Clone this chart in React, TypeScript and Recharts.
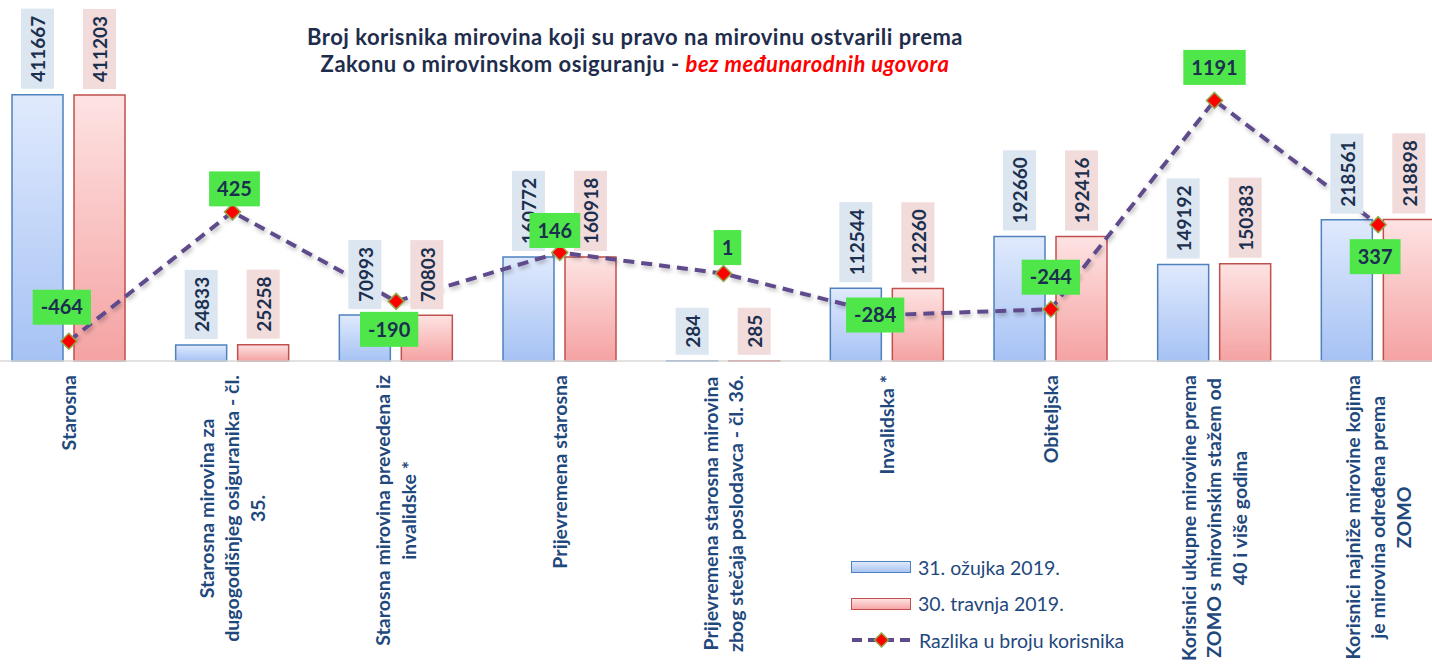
import React from 'react';
import { ComposedChart, Bar, Line, XAxis, YAxis, LabelList, Legend } from 'recharts';

const categories = [
  'Starosna',
  'Starosna mirovina za\ndugogodišnjeg osiguranika - čl.\n35.',
  'Starosna mirovina prevedena iz\ninvalidske *',
  'Prijevremena starosna',
  'Prijevremena starosna mirovina\nzbog stečaja poslodavca - čl. 36.',
  'Invalidska *',
  'Obiteljska',
  'Korisnici ukupne mirovine prema\nZOMO s mirovinskim stažem od\n40 i više godina',
  'Korisnici najniže mirovine kojima\nje mirovina određena prema\nZOMO',
];
const march2019 = [411667, 24833, 70993, 160772, 284, 112544, 192660, 149192, 218561];
const april2019 = [411203, 25258, 70803, 160918, 285, 112260, 192416, 150383, 218898];
const difference = [-464, 425, -190, 146, 1, -284, -244, 1191, 337];
const seriesNames = ['31. ožujka 2019.', '30. travnja 2019.', 'Razlika u broju korisnika'];
const titleLine1 = 'Broj korisnika mirovina koji su pravo na mirovinu ostvarili prema';
const titleLine2 = 'Zakonu o mirovinskom osiguranju - ';
const titleHighlight = 'bez međunarodnih ugovora';

// label placement (dx, dy) for difference labels relative to their point
const DIFF_LABEL_OFFSET: [number, number][] = [
  [-7, -34], [2, -23], [-7, 28], [-5, -22], [4, -26], [-12, 0], [0, -32], [0, -33], [-3, 32],
];

const data = categories.map((c, i) => ({
  name: c,
  march: march2019[i],
  april: april2019[i],
  diff: difference[i],
}));

const FONT = "Lato, 'Open Sans', sans-serif";
const AX_FONT = 19.6;
const LINE_H = 25.5;

let ctx: CanvasRenderingContext2D | null = null;
function textWidth(t: string, font: string): number {
  if (!ctx) {
    const c = document.createElement('canvas');
    ctx = c.getContext('2d');
  }
  if (!ctx) return t.length * 9;
  ctx.font = font;
  return ctx.measureText(t).width;
}

const CategoryTick = (props: any) => {
  const { x, payload } = props;
  const lines = String(payload.value).split('\n');
  const font = `bold ${AX_FONT}px Lato`;
  const maxW = Math.max(...lines.map((l) => textWidth(l, font)));
  const top = 375;
  const cy = top + maxW / 2;
  const n = lines.length;
  return (
    <g transform={`translate(${x},${cy}) rotate(-90)`}>
      <text textAnchor="middle" fontFamily={FONT} fontWeight={700} fontSize={AX_FONT} fill="#1f497d">
        {lines.map((l, i) => (
          <tspan key={i} x={0} y={(i - (n - 1) / 2) * LINE_H + AX_FONT * 0.35}>
            {l}
          </tspan>
        ))}
      </text>
    </g>
  );
};

const makeValueLabel = (bg: string) => (props: any) => {
  const { x, y, width, value } = props;
  const fs = 19;
  const tw = textWidth(String(value), `bold ${fs}px Lato`);
  const h = tw + 14;
  const w = 33;
  const cx = Number(x) + Number(width) / 2;
  const bottom = Number(y) - 6;
  return (
    <g>
      <rect x={cx - w / 2} y={bottom - h} width={w} height={h} fill={bg} />
      <text
        transform={`translate(${cx + 1},${bottom - h / 2}) rotate(-90)`}
        textAnchor="middle"
        dy="0.36em"
        fontFamily={FONT}
        fontWeight={700}
        fontSize={fs}
        fill="#1b2f4f"
      >
        {value}
      </text>
    </g>
  );
};

const DiffLabel = (props: any) => {
  const { x, y, value } = props;
  let index = props.index;
  if (index == null || DIFF_LABEL_OFFSET[index] == null) index = difference.indexOf(Number(value));
  const [dx, dy] = DIFF_LABEL_OFFSET[index] ?? [0, -30];
  const fs = 20;
  const tw = textWidth(String(value), `bold ${fs}px Lato`);
  const w = tw + 16;
  const h = 35;
  const cx = Number(x) + dx;
  const cy = Number(y) + dy;
  return (
    <g>
      <rect x={cx - w / 2} y={cy - h / 2} width={w} height={h} fill="#4fe64a" />
      <text x={cx} y={cy} dy="0.36em" textAnchor="middle" fontFamily={FONT} fontWeight={700} fontSize={fs} fill="#1b2f4f">
        {value}
      </text>
    </g>
  );
};

const Diamond = (props: any) => {
  const { cx, cy, index } = props;
  if (cx == null || cy == null) return <g key={`d-${index}`} />;
  const r = 8;
  return (
    <path
      key={`d-${index}`}
      d={`M${cx},${cy - r} L${cx + r},${cy} L${cx},${cy + r} L${cx - r},${cy} Z`}
      fill="#ff0000"
      stroke="#93a84a"
      strokeWidth={1.5}
    />
  );
};

const LegendContent = () => {
  const row: React.CSSProperties = { display: 'flex', alignItems: 'center', height: 36.5 };
  const txt: React.CSSProperties = { marginLeft: 7, fontFamily: FONT, fontSize: 19.5, color: '#1f497d', whiteSpace: 'nowrap' };
  return (
    <div>
      <div style={row}>
        <div style={{ width: 58, height: 10, border: '1.5px solid #4f81bd', background: 'linear-gradient(#dfe9fd, #a9c4f4)' }} />
        <span style={txt}>{seriesNames[0]}</span>
      </div>
      <div style={row}>
        <div style={{ width: 58, height: 10, border: '1.5px solid #c0504d', background: 'linear-gradient(#fde2e2, #f5a5a5)' }} />
        <span style={txt}>{seriesNames[1]}</span>
      </div>
      <div style={row}>
        <svg width={61} height={16}>
          <line x1={1} y1={8} x2={60} y2={8} stroke="#5f4b8b" strokeWidth={4} strokeDasharray="10 6" />
          <path d="M30.5,1 L37.5,8 L30.5,15 L23.5,8 Z" fill="#ff0000" stroke="#93a84a" strokeWidth={1.5} />
        </svg>
        <span style={txt}>{seriesNames[2]}</span>
      </div>
    </div>
  );
};

export default function App() {
  return (
    <div style={{ position: 'absolute', left: 0, top: 0, width: 1432, height: 669, overflow: 'hidden', background: '#fff' }}>
      <div style={{ position: 'absolute', left: -13, top: 0 }}>
        <ComposedChart
          width={1500}
          height={669}
          data={data}
          margin={{ top: 70, right: 27, left: 0, bottom: 0 }}
          barSize={51}
          barGap={11}
        >
          <defs>
            <linearGradient id="gBlue" x1="0" y1="0" x2="0" y2="1">
              <stop offset="0%" stopColor="#e0eafd" />
              <stop offset="100%" stopColor="#a6c2f4" />
            </linearGradient>
            <linearGradient id="gRed" x1="0" y1="0" x2="0" y2="1">
              <stop offset="0%" stopColor="#fee3e3" />
              <stop offset="100%" stopColor="#f5a2a2" />
            </linearGradient>
            <filter id="lineShadow" x="-5%" y="-20%" width="110%" height="140%">
              <feDropShadow dx="1.5" dy="2.5" stdDeviation="2" floodColor="#000" floodOpacity="0.28" />
            </filter>
          </defs>
          <XAxis
            dataKey="name"
            xAxisId={0}
            height={308}
            axisLine={{ stroke: '#d9d9d9', strokeWidth: 1.5 }}
            tickLine={false}
            interval={0}
            tick={<CategoryTick />}
          />
          <YAxis yAxisId="left" hide domain={[0, 450000]} />
          <YAxis yAxisId="right" hide orientation="right" domain={[-600, 1400]} />
          <Legend
            layout="horizontal"
            verticalAlign="middle"
            align="center"
            content={<LegendContent />}
            wrapperStyle={{ position: 'absolute', left: 864, top: 549, width: 340 }}
          />
          <Bar
            yAxisId="left"
            dataKey="march"
            name={seriesNames[0]}
            fill="url(#gBlue)"
            stroke="#4f81bd"
            strokeWidth={1.5}
            isAnimationActive={false}
          >
            <LabelList dataKey="march" content={makeValueLabel('#dce6f1')} />
          </Bar>
          <Bar
            yAxisId="left"
            dataKey="april"
            name={seriesNames[1]}
            fill="url(#gRed)"
            stroke="#c0504d"
            strokeWidth={1.5}
            isAnimationActive={false}
          >
            <LabelList dataKey="april" content={makeValueLabel('#f2dcdb')} />
          </Bar>
          <Line
            yAxisId="right"
            dataKey="diff"
            name={seriesNames[2]}
            type="linear"
            stroke="#5f4b8b"
            strokeWidth={4}
            strokeDasharray="11 7"
            filter="url(#lineShadow)"
            dot={<Diamond />}
            activeDot={false}
            isAnimationActive={false}
          >
            <LabelList dataKey="diff" content={<DiffLabel />} />
          </Line>
        </ComposedChart>
      </div>
      <div
        style={{
          position: 'absolute',
          left: 185,
          top: 23,
          width: 900,
          textAlign: 'center',
          fontFamily: FONT,
          fontWeight: 700,
          fontSize: 22,
          letterSpacing: 0.5,
          lineHeight: '27px',
          color: '#1f2d4d',
        }}
      >
        <div>{titleLine1}</div>
        <div>
          {titleLine2}
          <span style={{ color: '#ff0000', fontStyle: 'italic' }}>{titleHighlight}</span>
        </div>
      </div>
    </div>
  );
}
